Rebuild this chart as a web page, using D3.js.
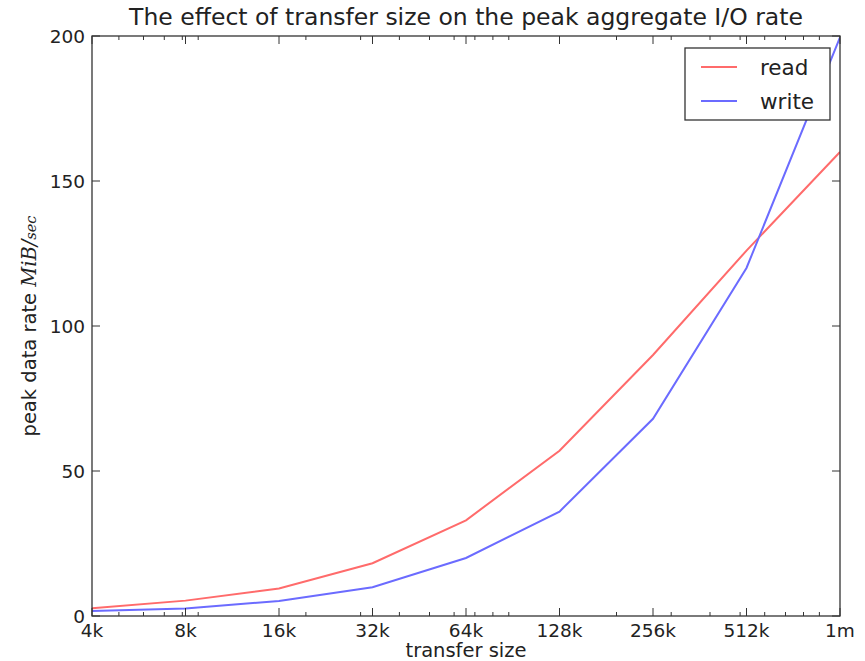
<!DOCTYPE html>
<html>
<head>
<meta charset="utf-8">
<script src="https://cdn.jsdelivr.net/npm/d3@7"></script>
<style>
  body { margin: 0; background: #fff; }
  svg text { font-family: "DejaVu Sans", sans-serif; fill: #222; }
</style>
</head>
<body>
<svg id="chart" width="865" height="661"></svg>
<script>
// transfer sizes in bytes and their labels
var sizes = [4096, 8192, 16384, 32768, 65536, 131072, 262144, 524288, 1048576];
var sizeLabels = ["4k", "8k", "16k", "32k", "64k", "128k", "256k", "512k", "1m"];
var readRates = [2.7, 5.3, 9.5, 18.2, 33, 57, 90, 126, 160];
var writeRates = [1.7, 2.6, 5.2, 9.9, 20, 36, 68, 120, 199.5];
var yTicks = [0, 50, 100, 150, 200];

// note: "top" is taken by window.top, so plot edges get their own names
var plotL = 92, plotR = 840, plotT = 36, plotB = 616;

var svg = d3.select("#chart");

var x = d3.scaleLog().domain([4096, 1048576]).range([plotL, plotR]);
var y = d3.scaleLinear().domain([0, 200]).range([plotB, plotT]);

// minor ticks that matplotlib's log locator leaves behind
var minor = [];
[1000, 10000, 100000].forEach(function(dec){
    for (var k = 2; k <= 9; k++) {
        var v = dec * k;
        if (v > 4096 && v < 1048576) minor.push(v);
    }
});

svg.append("clipPath").attr("id", "plotclip")
    .append("rect")
    .attr("x", plotL).attr("y", plotT)
    .attr("width", plotR - plotL).attr("height", plotB - plotT);

var line = d3.line()
    .x(function(d, i){ return x(sizes[i]); })
    .y(function(d){ return y(d); });

var g = svg.append("g").attr("clip-path", "url(#plotclip)");

g.append("path")
    .datum(readRates)
    .attr("d", line)
    .attr("fill", "none")
    .attr("stroke", "#ff6b6b")
    .attr("stroke-width", 2);

g.append("path")
    .datum(writeRates)
    .attr("d", line)
    .attr("fill", "none")
    .attr("stroke", "#6b6bff")
    .attr("stroke-width", 2);

// ticks, pointing inward on all four sides
var ticks = svg.append("g").attr("stroke", "#333").attr("stroke-width", 1);

sizes.forEach(function(s){
    ticks.append("line").attr("x1", x(s)).attr("x2", x(s)).attr("y1", plotB).attr("y2", plotB - 8);
    ticks.append("line").attr("x1", x(s)).attr("x2", x(s)).attr("y1", plotT).attr("y2", plotT + 8);
});
minor.forEach(function(s){
    ticks.append("line").attr("x1", x(s)).attr("x2", x(s)).attr("y1", plotB).attr("y2", plotB - 4);
    ticks.append("line").attr("x1", x(s)).attr("x2", x(s)).attr("y1", plotT).attr("y2", plotT + 4);
});
yTicks.forEach(function(t){
    ticks.append("line").attr("x1", plotL).attr("x2", plotL + 8).attr("y1", y(t)).attr("y2", y(t));
    ticks.append("line").attr("x1", plotR).attr("x2", plotR - 8).attr("y1", y(t)).attr("y2", y(t));
});

// frame
svg.append("rect")
    .attr("x", plotL).attr("y", plotT)
    .attr("width", plotR - plotL).attr("height", plotB - plotT)
    .attr("fill", "none")
    .attr("stroke", "#333")
    .attr("stroke-width", 1.3);

// tick labels
svg.selectAll(".xlab").data(sizes).enter().append("text")
    .attr("x", function(d){ return x(d); })
    .attr("y", plotB + 21)
    .attr("text-anchor", "middle")
    .style("font-size", "18.5px")
    .text(function(d, i){ return sizeLabels[i]; });

svg.selectAll(".ylab").data(yTicks).enter().append("text")
    .attr("x", plotL - 7)
    .attr("y", function(d){ return y(d) + 7; })
    .attr("text-anchor", "end")
    .style("font-size", "18.5px")
    .text(function(d){ return d; });

// title and axis labels
svg.append("text")
    .attr("x", 466)
    .attr("y", 25)
    .attr("text-anchor", "middle")
    .style("font-size", "23.5px")
    .text("The effect of transfer size on the peak aggregate I/O rate");

svg.append("text")
    .attr("x", 466)
    .attr("y", 657)
    .attr("text-anchor", "middle")
    .style("font-size", "19.5px")
    .text("transfer size");

var ylab = svg.append("text")
    .attr("transform", "translate(36," + ((plotT + plotB) / 2) + ") rotate(-90)")
    .attr("text-anchor", "middle")
    .style("font-size", "19.5px");
ylab.append("tspan").text("peak data rate ");
ylab.append("tspan")
    .style("font-family", "'DejaVu Serif', serif")
    .style("font-style", "italic")
    .text("MiB/");
ylab.append("tspan")
    .style("font-family", "'DejaVu Serif', serif")
    .style("font-style", "italic")
    .style("font-size", "14.5px")
    .text("sec");

// legend
var legend = svg.append("g");
legend.append("rect")
    .attr("x", 685).attr("y", 48)
    .attr("width", 145).attr("height", 72)
    .attr("fill", "#fff")
    .attr("stroke", "#333")
    .attr("stroke-width", 1.3);

var legendItems = [["read", "#ff6b6b"], ["write", "#6b6bff"]];
legendItems.forEach(function(item, i){
    var ly = 67 + i * 34;
    legend.append("line")
        .attr("x1", 701).attr("x2", 737)
        .attr("y1", ly).attr("y2", ly)
        .attr("stroke", item[1]).attr("stroke-width", 2);
    legend.append("text")
        .attr("x", 760).attr("y", ly + 8)
        .style("font-size", "21.5px")
        .text(item[0]);
});
</script>
</body>
</html>
